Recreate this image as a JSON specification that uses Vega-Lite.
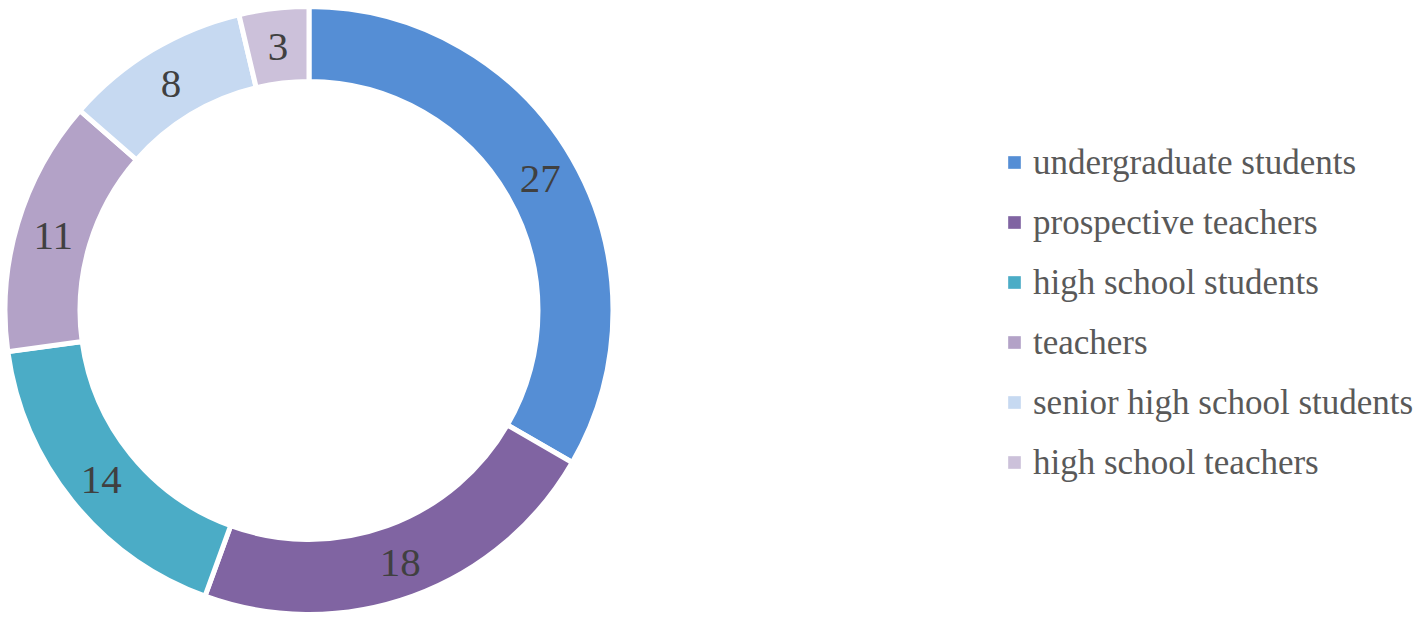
{
  "$schema": "https://vega.github.io/schema/vega-lite/v6.json",
  "width": 618,
  "height": 621,
  "autosize": {"type": "none"},
  "padding": {"left": 0, "top": 0, "right": 803, "bottom": 0},
  "background": "white",
  "view": {"stroke": null},
  "data": {
    "values": [
      {"group": "undergraduate students", "count": 27, "rank": 1},
      {"group": "prospective teachers", "count": 18, "rank": 2},
      {"group": "high school students", "count": 14, "rank": 3},
      {"group": "teachers", "count": 11, "rank": 4},
      {"group": "senior high school students", "count": 8, "rank": 5},
      {"group": "high school teachers", "count": 3, "rank": 6}
    ]
  },
  "encoding": {
    "theta": {"field": "count", "type": "quantitative", "stack": true},
    "order": {"field": "rank", "type": "quantitative"}
  },
  "layer": [
    {
      "mark": {"type": "arc", "outerRadius": 304, "innerRadius": 229, "stroke": "white", "strokeWidth": 5},
      "encoding": {
        "color": {
          "field": "group",
          "type": "nominal",
          "scale": {
            "domain": ["undergraduate students", "prospective teachers", "high school students", "teachers", "senior high school students", "high school teachers"],
            "range": ["#558ED5", "#8064A2", "#4BACC6", "#B3A2C7", "#C6D9F1", "#CCC1DA"]
          },
          "legend": {
            "title": null,
            "orient": "none",
            "legendX": 997,
            "legendY": 145,
            "symbolType": "square",
            "symbolSize": 160,
            "symbolStrokeWidth": 0,
            "labelFont": "Liberation Serif",
            "labelFontSize": 35,
            "labelColor": "#595959",
            "labelOffset": 1,
            "rowPadding": 24,
            "labelLimit": 0
          }
        }
      }
    },
    {
      "mark": {"type": "text", "radius": 267, "dy": 3, "font": "Liberation Serif", "fontSize": 41, "color": "#404040", "baseline": "middle", "align": "center"},
      "encoding": {
        "text": {"field": "count", "type": "quantitative"}
      }
    }
  ]
}
